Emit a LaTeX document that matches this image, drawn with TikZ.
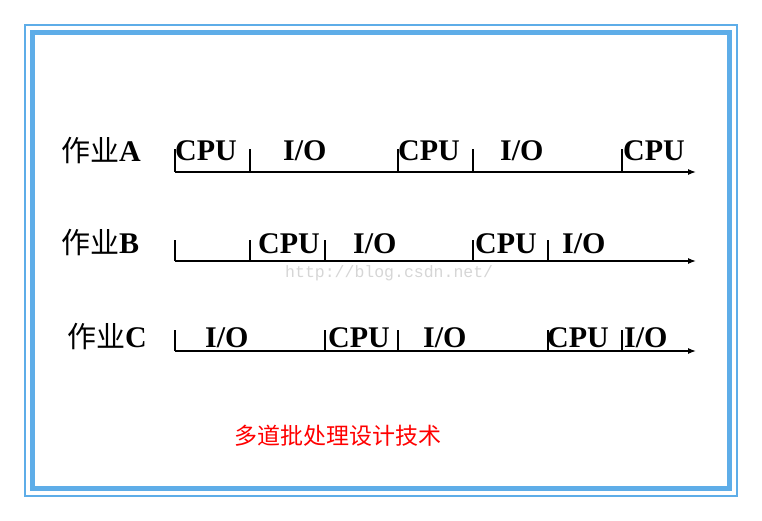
\documentclass[tikz,border=0pt]{standalone}
\usepackage{fontspec}
\setmainfont{Liberation Serif}
\setmonofont{Liberation Mono}
\newfontfamily\cjk{Noto Sans CJK SC}
\usetikzlibrary{arrows.meta}
\definecolor{frameblue}{RGB}{94,173,232}
\definecolor{markgray}{RGB}{214,214,214}

\begin{document}
\begin{tikzpicture}[x=1pt, y=-1pt,
    job/.style={anchor=base west, inner sep=0pt, font=\fontsize{30}{30}\selectfont\bfseries},
    phase/.style={anchor=base west, inner sep=0pt, font=\fontsize{30}{30}\selectfont\bfseries},
    timeline/.style={line width=1.3pt, -{Latex[length=8pt,width=6pt]}},
    tick/.style={line width=1.2pt}]
    \useasboundingbox (0,0) rectangle (762,521);
    % frames
    \draw[frameblue, line width=2pt] (25,25) rectangle (737,496);
    \draw[frameblue, line width=5pt] (32.5,32.5) rectangle (729.5,488.5);

    % job A
    \node[job] (jobA) at (61,162) {{\cjk\mdseries\fontsize{29}{29}\selectfont 作业}A};
    \coordinate (A0) at (175,172);
    \coordinate (Aend) at (696,172);
    \draw[timeline] (A0) -- (Aend);
    \foreach \x in {175,250,398,473,622}
        \draw[tick] (\x,172) -- (\x,149);
    \node[phase] (a1) at (175,161) {CPU};
    \node[phase] (a2) at (283,161) {I/O};
    \node[phase] (a3) at (398,161) {CPU};
    \node[phase] (a4) at (500,161) {I/O};
    \node[phase] (a5) at (623,161) {CPU};

    % job B
    \node[job] (jobB) at (61,253) {{\cjk\mdseries\fontsize{29}{29}\selectfont 作业}B};
    \coordinate (B0) at (175,261);
    \coordinate (Bend) at (696,261);
    \draw[timeline] (B0) -- (Bend);
    \foreach \x in {175,250,325,473,548}
        \draw[tick] (\x,261) -- (\x,240);
    \node[phase] (b1) at (258,253) {CPU};
    \node[phase] (b2) at (353,253) {I/O};
    \node[phase] (b3) at (475,253) {CPU};
    \node[phase] (b4) at (562,253) {I/O};

    % job C
    \node[job] (jobC) at (67,347) {{\cjk\mdseries\fontsize{29}{29}\selectfont 作业}C};
    \coordinate (C0) at (175,351);
    \coordinate (Cend) at (696,351);
    \draw[timeline] (C0) -- (Cend);
    \foreach \x in {175,325,398,548,622}
        \draw[tick] (\x,351) -- (\x,330);
    \node[phase] (c1) at (205,347) {I/O};
    \node[phase] (c2) at (328,347) {CPU};
    \node[phase] (c3) at (423,347) {I/O};
    \node[phase] (c4) at (547,347) {CPU};
    \node[phase] (c5) at (624,347) {I/O};

    % watermark and caption
    \node[anchor=base west, inner sep=0pt, text=markgray, font=\ttfamily\fontsize{16.5}{16.5}\selectfont] (mark) at (285,277) {http://blog.csdn.net/};
    \node[anchor=west, inner sep=0pt, text=red, font=\cjk\fontsize{23}{23}\selectfont] (title) at (234,436) {多道批处理设计技术};
\end{tikzpicture}
\end{document}
